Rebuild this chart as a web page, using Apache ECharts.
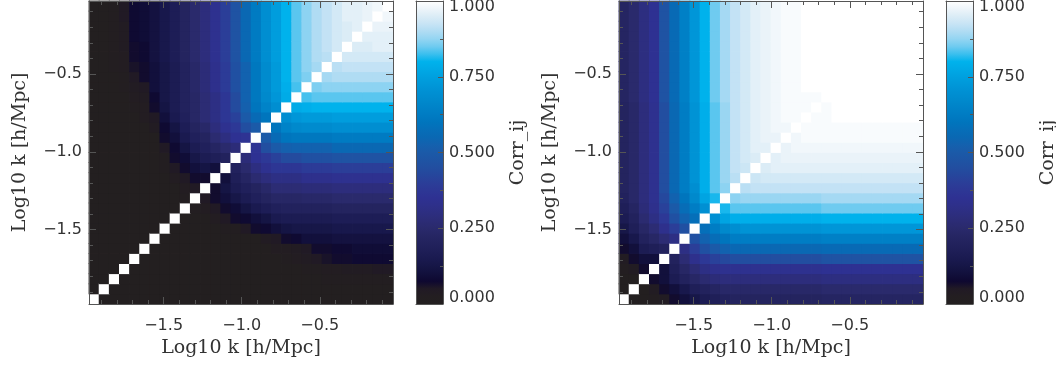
<!DOCTYPE html>
<html>
<head>
<meta charset="utf-8">
<title>Corr_ij</title>
<script src="https://cdn.jsdelivr.net/npm/echarts@6/dist/echarts.min.js"></script>
<style>
  html, body { margin: 0; padding: 0; background: #fff; }
  #chart { width: 1056px; height: 367px; }
</style>
</head>
<body>
<div id="chart"></div>
<script>
// log10 k bin centres [h/Mpc]
var kBins = [-1.9456, -1.8807, -1.8158, -1.7509, -1.6860, -1.6211, -1.5562, -1.4913, -1.4264, -1.3615,
             -1.2966, -1.2317, -1.1668, -1.1019, -1.0370, -0.9721, -0.9072, -0.8423, -0.7774, -0.7125,
             -0.6476, -0.5827, -0.5178, -0.4529, -0.3880, -0.3231, -0.2582, -0.1933, -0.1284, -0.0635];
var kMin = -1.978, kMax = -0.031;
var kTicks = [-1.5, -1.0, -0.5];
var corrTicks = [0, 0.25, 0.5, 0.75, 1];

// colour table, evenly spaced from 0 to 1
var cmapColors = [
  '#231f20', '#231e21', '#211a25', '#0e0830', '#12103c', '#161646', '#1a1a50', '#1e1e57', '#22225d', '#262663',
  '#2a2a6c', '#2c2c76', '#2d2e80', '#2e308a', '#2e3192', '#2d3795', '#2b3e98', '#26469c', '#224ea0', '#1e54a4',
  '#1b5aa8', '#1461ae', '#0a68b3', '#066eb8', '#0075bd', '#007cc3', '#0083c8', '#008acd', '#0090d3', '#0098d9',
  '#00a0df', '#00a9e6', '#00b2ec', '#3bbfee', '#6fcbf0', '#94d5f2', '#b0dcf3', '#c8e4f5', '#dbecf6', '#eef5fa',
  '#ffffff'
];

// Corr_ij in percent. row j holds bins i = j..29 (matrix is symmetric)
var corrLeft = [
  [100,0,0,0,0,0,0,0,0,0,0,0,0,0,0,0,0,0,0,0,0,0,0,1,1,1,1,1,1,1],
  [100,0,0,0,0,0,0,0,0,0,0,0,0,0,0,0,0,0,0,1,1,1,1,1,1,1,1,1,1],
  [100,0,0,0,0,0,0,0,0,0,0,0,0,0,0,0,1,1,1,1,1,2,2,2,2,2,2,2],
  [100,0,0,0,0,0,0,0,0,0,0,0,0,1,1,1,1,1,2,2,3,3,4,4,4,5,5],
  [100,0,0,0,0,0,0,0,0,0,1,1,1,1,1,2,3,4,5,6,7,7,8,8,8,8],
  [100,0,0,0,0,0,0,0,1,1,1,1,1,3,3,4,5,7,7,8,8,9,9,9,9],
  [100,0,0,0,0,0,1,1,1,1,1,4,5,7,8,10,10,10,11,11,11,11,11,11],
  [100,0,0,0,1,1,2,2,5,7,8,10,12,13,13,13,13,14,14,14,14,14,14],
  [100,0,0,1,3,5,7,8,10,12,15,16,16,16,16,16,17,17,17,17,17,17],
  [100,2,3,5,7,9,12,15,17,19,20,20,20,20,20,21,21,21,21,21,21],
  [100,5,7,10,13,16,19,21,23,23,23,24,24,24,25,25,25,25,25,25],
  [100,7,12,16,19,21,24,27,27,27,28,28,28,29,29,29,29,29,29],
  [100,10,18,22,26,29,31,31,31,33,33,33,34,34,34,34,34,34],
  [100,20,25,30,34,37,37,37,39,39,39,40,40,40,40,40,40],
  [100,28,35,38,41,44,44,46,46,46,47,47,47,47,47,47],
  [100,36,45,50,52,53,53,53,53,55,55,55,55,55,55],
  [100,50,56,60,61,61,61,61,62,62,62,62,62,62],
  [100,60,65,67,68,68,68,69,69,69,69,69,69],
  [100,69,72,73,73,73,74,74,74,74,74,74],
  [100,78,79,80,80,80,80,80,80,80,80],
  [100,83,84,84,84,84,84,84,84,84],
  [100,86,87,87,87,87,87,87,87],
  [100,89,90,90,90,90,90,90],
  [100,91,92,92,92,92,92],
  [100,94,94,94,94,94],
  [100,95,95,96,96],
  [100,96,96,96],
  [100,97,97],
  [100,98],
  [100]
];

var corrRight = [
  [100,0,1,2,4,7,10,13,16,18,20,21,21,21,21,21,21,21,21,21,22,22,22,22,22,22,22,22,22,22],
  [100,1,4,7,10,14,18,20,22,24,24,24,24,24,24,24,24,24,24,25,25,25,25,25,25,25,25,25,25],
  [100,7,10,16,20,23,26,28,29,29,29,29,29,29,29,29,29,29,30,30,30,30,30,30,30,30,30,30],
  [100,10,18,23,27,31,33,34,34,34,34,34,34,34,34,34,34,35,35,35,35,35,35,35,35,35,35],
  [100,20,27,33,38,41,43,45,45,45,45,45,45,45,45,45,47,47,47,47,47,47,47,47,47,47],
  [100,31,40,46,50,53,55,55,55,55,55,55,55,55,55,56,56,56,56,56,56,56,56,56,56],
  [100,46,53,57,60,63,63,63,63,63,63,63,63,63,64,64,64,64,64,64,64,64,64,64],
  [100,58,63,67,69,71,71,71,71,71,71,71,71,72,72,72,72,72,72,72,72,72,72],
  [100,70,76,79,79,79,79,79,79,79,79,79,80,80,80,80,80,80,80,80,80,80],
  [100,81,84,84,84,84,84,84,84,84,84,85,85,85,85,85,85,85,85,85,85],
  [100,87,88,88,88,88,88,88,88,88,89,89,89,89,89,89,89,89,89,89],
  [100,91,92,92,92,92,92,92,92,92,92,92,92,92,92,92,92,92,92],
  [100,93,94,94,94,94,94,94,94,94,94,94,94,94,94,94,94,94],
  [100,95,96,96,96,96,96,96,96,96,96,96,96,96,96,96,96],
  [100,96,97,97,97,97,97,97,97,97,97,97,97,97,97,97],
  [100,97,98,98,98,98,98,98,98,98,98,98,98,98,98],
  [100,98,99,99,99,99,99,99,99,99,99,99,99,99],
  [100,99,99,99,99,99,99,99,99,99,99,99,99],
  [100,99,99,100,100,100,100,100,100,100,100,100],
  [100,99,100,100,100,100,100,100,100,100,100],
  [100,100,100,100,100,100,100,100,100,100],
  [100,100,100,100,100,100,100,100,100],
  [100,100,100,100,100,100,100,100],
  [100,100,100,100,100,100,100],
  [100,100,100,100,100,100],
  [100,100,100,100,100],
  [100,100,100,100],
  [100,100,100],
  [100,100],
  [100]
];

// turn the triangle rows into [i, j, corr] cells for both halves
function toCells(rows) {
  var out = [];
  rows.forEach(function (row, j) {
    row.forEach(function (v, k) {
      var i = j + k;
      out.push([i, j, v / 100]);
      if (i !== j) out.push([j, i, v / 100]);
    });
  });
  return out;
}

var frame = { color: '#555', width: 1 };
var labelFont = { fontFamily: 'DejaVu Sans', fontSize: 16, color: '#333' };
var nameFont = { fontFamily: 'DejaVu Serif', fontSize: 19, color: '#333' };

function kLabel(v) {
  for (var n = 0; n < kTicks.length; n++) {
    if (Math.abs(v - kTicks[n]) < 1e-6) return kTicks[n].toFixed(1).replace('-', '\u2212');
  }
  return '';
}

// axes of one panel: hidden category axis + major/minor value axes on both sides
function kAxes(g, dim) {
  var lo = dim === 'x' ? 'bottom' : 'left';
  var hi = dim === 'x' ? 'top' : 'right';
  function val(pos, major, withLabel) {
    return {
      type: 'value', gridIndex: g, position: pos, min: kMin, max: kMax, z: 5,
      splitNumber: major ? 4 : 19,
      splitLine: { show: false },
      axisLine: { show: major, onZero: false, lineStyle: frame },
      axisTick: { show: true, inside: true, length: major ? 7 : 4, lineStyle: frame },
      axisLabel: withLabel ? Object.assign({
        formatter: kLabel, margin: dim === 'x' ? 14 : 7,
        padding: dim === 'x' ? 0 : [4, 0, 0, 0],
        showMinLabel: false, showMaxLabel: false
      }, labelFont) : { show: false },
      name: withLabel ? 'Log10 k [h/Mpc]' : '',
      nameLocation: 'middle',
      nameGap: dim === 'x' ? 33 : 59,
      nameTextStyle: nameFont
    };
  }
  return [
    { type: 'category', gridIndex: g, data: kBins, show: false },
    val(lo, true, true),
    val(lo, false, false),
    val(hi, true, false),
    val(hi, false, false)
  ];
}

function barAxesX(g) {
  return [
    { type: 'category', gridIndex: g, data: ['corr'], position: 'bottom', z: 5,
      axisLine: { show: true, onZero: false, lineStyle: frame }, axisTick: { show: false }, axisLabel: { show: false } },
    { type: 'value', gridIndex: g, position: 'top', min: 0, max: 1, z: 5, splitLine: { show: false },
      axisLine: { show: true, onZero: false, lineStyle: frame }, axisTick: { show: false }, axisLabel: { show: false } }
  ];
}

function barAxesY(g) {
  return [
    { type: 'value', gridIndex: g, position: 'right', min: 0, max: 1, interval: 0.25, z: 5,
      splitLine: { show: false },
      axisLine: { show: true, onZero: false, lineStyle: frame },
      axisTick: { show: true, inside: true, length: 5, lineStyle: frame },
      minorTick: { show: true, splitNumber: 2, length: 3, lineStyle: frame },
      axisLabel: Object.assign({
        margin: 6, lineHeight: 12,
        formatter: function (v) { return corrTicks.indexOf(v) >= 0 ? v.toFixed(3) : ''; },
        verticalAlignMinLabel: 'bottom', verticalAlignMaxLabel: 'top'
      }, labelFont),
      name: 'Corr_ij', nameLocation: 'middle', nameRotate: 90, nameGap: 66, nameTextStyle: nameFont },
    { type: 'value', gridIndex: g, position: 'left', min: 0, max: 1, z: 5, splitLine: { show: false },
      axisLine: { show: true, onZero: false, lineStyle: frame }, axisTick: { show: false }, axisLabel: { show: false } }
  ];
}

// cells drawn through the category scales, padded a little so no seams show
function cellSeries(xi, yi, rows) {
  return {
    type: 'custom', xAxisIndex: xi, yAxisIndex: yi, silent: true,
    data: toCells(rows),
    encode: { x: 0, y: 1 },
    renderItem: function (params, api) {
      var c = api.coord([api.value(0), api.value(1)]);
      var s = api.size([1, 1]);
      return {
        type: 'rect',
        shape: { x: c[0] - s[0] / 2 - 0.4, y: c[1] - s[1] / 2 - 0.4, width: s[0] + 0.8, height: s[1] + 0.8 },
        style: { fill: api.visual('color') }
      };
    }
  };
}

var stops = cmapColors.map(function (c, n) {
  return { offset: n / (cmapColors.length - 1), color: c };
});

function colourBar(xi, yi) {
  return {
    type: 'custom', xAxisIndex: xi, yAxisIndex: yi, silent: true,
    data: [[0, 1]],
    renderItem: function (params, api) {
      var bottom = api.coord([0, 0]);
      var top = api.coord([0, 1]);
      var w = api.size([1, 0])[0];
      return {
        type: 'rect',
        shape: { x: bottom[0] - w / 2, y: top[1], width: w, height: bottom[1] - top[1] },
        style: { fill: new echarts.graphic.LinearGradient(0, 1, 0, 0, stops) }
      };
    }
  };
}

var chart = echarts.init(document.getElementById('chart'), null, { renderer: 'canvas' });

var option = {
  backgroundColor: '#fff',
  animation: false,
  grid: [
    { left: 89, top: 1, width: 304, height: 303, outerBoundsMode: 'none' },
    { left: 619, top: 1, width: 304, height: 303, outerBoundsMode: 'none' },
    { left: 416, top: 1, width: 27, height: 303, outerBoundsMode: 'none' },
    { left: 946, top: 1, width: 27, height: 303, outerBoundsMode: 'none' }
  ],
  xAxis: [].concat(kAxes(0, 'x'), kAxes(1, 'x'), barAxesX(2), barAxesX(3)),
  yAxis: [].concat(kAxes(0, 'y'), kAxes(1, 'y'), barAxesY(2), barAxesY(3)),
  visualMap: {
    type: 'continuous', min: 0, max: 1, dimension: 2, show: false, seriesIndex: [0, 1],
    inRange: { color: cmapColors }
  },
  series: [
    cellSeries(0, 0, corrLeft),
    cellSeries(5, 5, corrRight),
    colourBar(10, 10),
    colourBar(12, 12)
  ]
};

chart.setOption(option);
</script>
</body>
</html>
